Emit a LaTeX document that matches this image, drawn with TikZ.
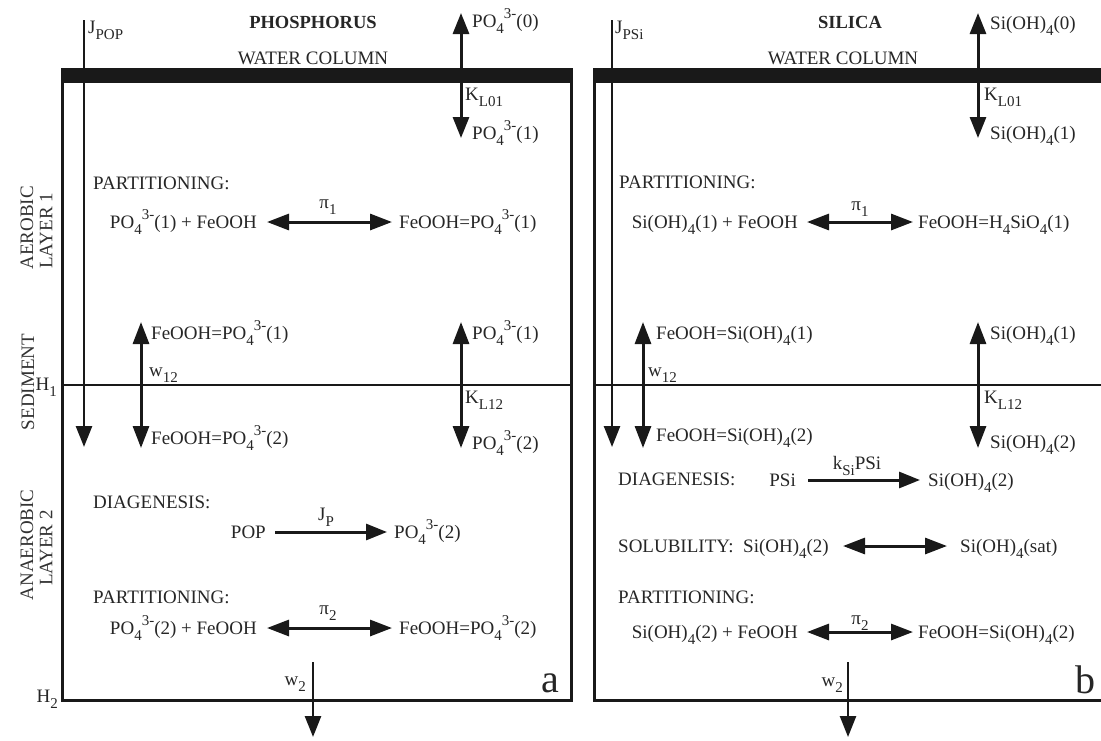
\documentclass[tikz,border=0pt]{standalone}
\usepackage{fontspec}
\setmainfont{Liberation Serif}
\usetikzlibrary{arrows.meta}
\newcommand{\sbs}[1]{\raisebox{-0.32em}{\fontsize{15}{15}\selectfont #1}}
\newcommand{\sps}[1]{\raisebox{0.45em}{\fontsize{15}{15}\selectfont #1}}
\newcommand{\POf}[1]{PO\sbs{4}\sps{3-}(#1)}
\newcommand{\SiOH}[1]{Si(OH)\sbs{4}(#1)}
\tikzset{
  lbl/.style={inner sep=0pt, text=black!85},
  bar/.style={fill=black!90, draw=none},
  boxline/.style={line width=3pt, draw=black!90, line join=miter},
  hline/.style={line width=2.5pt, draw=black!90},
  arr/.style={line width=3pt, draw=black!90, -{Triangle[length=21pt,width=16pt]}},
  thinarr/.style={line width=2.5pt, draw=black!90, -{Triangle[length=21pt,width=16pt]}},
  dbl/.style={line width=3pt, draw=black!90, {Triangle[length=22pt,width=16pt]}-{Triangle[length=22pt,width=16pt]}},
  side/.style={lbl, rotate=90, text=black!80},
  ttl/.style={lbl, font=\fontsize{18.5}{21}\selectfont\bfseries},
}
\begin{document}
\begin{tikzpicture}[x=1pt,y=-1pt, font=\fontsize{19}{22}\selectfont]
\useasboundingbox (0,0) rectangle (1101,740);
% ================= LEFT PANEL =================
\fill[bar] (61,68) rectangle (573,83);
\draw[boxline] (62,83) -- (62,700) -- (571.5,700) -- (571.5,83);
\draw[hline] (62,385) -- (571.5,385);
% side labels
\node[side] (aer) at (27,228) {AEROBIC};
\node[side] (lay1) at (46,231) {LAYER 1};
\node[side] (sed) at (28,382) {SEDIMENT};
\node[side] (anaer) at (27,545) {ANAEROBIC};
\node[side] (lay2) at (46,548) {LAYER 2};
\node[lbl, anchor=base east] (h1a) at (57,390) {H\sbs{1}};
\node[lbl, anchor=base east] (h2a) at (58,702) {H\sbs{2}};
% top
\node[lbl, anchor=base west] (jpop) at (88,33) {J\sbs{POP}};
\node[ttl, anchor=base] (ptitle) at (313,28) {PHOSPHORUS};
\node[lbl, anchor=base] (wca) at (313,64) {WATER COLUMN};
\node[lbl, anchor=base west] (po0) at (472,27) {\POf{0}};
\node[lbl, anchor=base west] (kl01a) at (465,100) {K\sbs{L01}};
\node[lbl, anchor=base west] (po1a) at (472,139) {\POf{1}};
\coordinate (jpT) at (84,20); \coordinate (jpB) at (84,447);
\coordinate (pupB) at (461,68); \coordinate (pupT) at (461,13);
\coordinate (pdnT) at (461,83); \coordinate (pdnB) at (461,138);
\draw[thinarr] (jpT) -- (jpB);
\draw[arr] (pupB) -- (pupT);
\draw[arr] (pdnT) -- (pdnB);
% partitioning 1
\node[lbl, anchor=base west] (parta) at (93,189) {PARTITIONING:};
\node[lbl, anchor=base east] (p1l) at (257,228) {\POf{1} + FeOOH};
\node[lbl, anchor=base west] (p1r) at (399,228) {FeOOH=\POf{1}};
\node[lbl, anchor=base] (pi1a) at (328,208) {π\sbs{1}};
\coordinate (p1L) at (267,222); \coordinate (p1R) at (392,222);
\draw[dbl] (p1L) -- (p1R);
% exchange across H1
\node[lbl, anchor=base west] (fe1a) at (151,339) {FeOOH=\POf{1}};
\node[lbl, anchor=base west] (w12a) at (149,376) {w\sbs{12}};
\node[lbl, anchor=base west] (fe2a) at (151,444) {FeOOH=\POf{2}};
\node[lbl, anchor=base west] (po1b) at (472,339) {\POf{1}};
\node[lbl, anchor=base west] (kl12a) at (465,403) {K\sbs{L12}};
\node[lbl, anchor=base west] (po2b) at (472,449) {\POf{2}};
\coordinate (wT) at (141,322); \coordinate (wB) at (141,448);
\coordinate (kT) at (461,322); \coordinate (kB) at (461,448);
\draw[dbl] (wT) -- (wB);
\draw[dbl] (kT) -- (kB);
% diagenesis
\node[lbl, anchor=base west] (diaga) at (93,508) {DIAGENESIS:};
\node[lbl, anchor=base east] (pop) at (266,538) {POP};
\node[lbl, anchor=base west] (po2c) at (394,538) {\POf{2}};
\node[lbl, anchor=base] (jp) at (326,520) {J\sbs{P}};
\coordinate (dL) at (275,532); \coordinate (dR) at (387,532);
\draw[arr] (dL) -- (dR);
% partitioning 2
\node[lbl, anchor=base west] (partb) at (93,603) {PARTITIONING:};
\node[lbl, anchor=base east] (p2l) at (257,634) {\POf{2} + FeOOH};
\node[lbl, anchor=base west] (p2r) at (399,634) {FeOOH=\POf{2}};
\node[lbl, anchor=base] (pi2a) at (328,614) {π\sbs{2}};
\coordinate (p2L) at (267,628); \coordinate (p2R) at (392,628);
\draw[dbl] (p2L) -- (p2R);
% burial
\node[lbl, anchor=base east] (w2a) at (306,685) {w\sbs{2}};
\coordinate (bT) at (313,662); \coordinate (bB) at (313,737);
\draw[thinarr] (bT) -- (bB);
\node[lbl, anchor=base, font=\fontsize{40}{40}\selectfont] (la) at (550,692) {a};
% ================= RIGHT PANEL =================
\fill[bar] (593,68) rectangle (1101,83);
\draw[boxline] (594.5,83) -- (594.5,700) -- (1101,700);
\draw[hline] (594.5,385) -- (1101,385);
\node[lbl, anchor=base west] (jpsi) at (615,33) {J\sbs{PSi}};
\node[ttl, anchor=base] (stitle) at (850,28) {SILICA};
\node[lbl, anchor=base] (wcb) at (843,64) {WATER COLUMN};
\node[lbl, anchor=base west] (si0) at (990,29) {\SiOH{0}};
\node[lbl, anchor=base west] (kl01b) at (984,100) {K\sbs{L01}};
\node[lbl, anchor=base west] (si1a) at (990,139) {\SiOH{1}};
\coordinate (jsT) at (612,20); \coordinate (jsB) at (612,447);
\coordinate (supB) at (978,68); \coordinate (supT) at (978,13);
\coordinate (sdnT) at (978,83); \coordinate (sdnB) at (978,138);
\draw[thinarr] (jsT) -- (jsB);
\draw[arr] (supB) -- (supT);
\draw[arr] (sdnT) -- (sdnB);
% partitioning 1
\node[lbl, anchor=base west] (partc) at (619,188) {PARTITIONING:};
\node[lbl, anchor=base east] (s1l) at (798,228) {\SiOH{1} + FeOOH};
\node[lbl, anchor=base west] (s1r) at (918,228) {FeOOH=H\sbs{4}SiO\sbs{4}(1)};
\node[lbl, anchor=base] (pi1b) at (860,210) {π\sbs{1}};
\coordinate (s1L) at (807,222); \coordinate (s1R) at (913,222);
\draw[dbl] (s1L) -- (s1R);
% exchange across H1
\node[lbl, anchor=base west] (fe1b) at (656,339) {FeOOH=\SiOH{1}};
\node[lbl, anchor=base west] (w12b) at (648,376) {w\sbs{12}};
\node[lbl, anchor=base west] (fe2b) at (656,441) {FeOOH=\SiOH{2}};
\node[lbl, anchor=base west] (si1b) at (990,339) {\SiOH{1}};
\node[lbl, anchor=base west] (kl12b) at (984,403) {K\sbs{L12}};
\node[lbl, anchor=base west] (si2b) at (990,448) {\SiOH{2}};
\coordinate (w2T) at (643,322); \coordinate (w2B) at (643,448);
\coordinate (k2T) at (978,322); \coordinate (k2B) at (978,448);
\draw[dbl] (w2T) -- (w2B);
\draw[dbl] (k2T) -- (k2B);
% diagenesis
\node[lbl, anchor=base west] (diagb) at (618,485) {DIAGENESIS:};
\node[lbl, anchor=base east] (psi) at (796,486) {PSi};
\node[lbl, anchor=base west] (si2c) at (928,486) {\SiOH{2}};
\node[lbl, anchor=base] (ksi) at (857,469) {k\sbs{Si}PSi};
\coordinate (sdL) at (808,480); \coordinate (sdR) at (920,480);
\draw[arr] (sdL) -- (sdR);
% solubility
\node[lbl, anchor=base west] (solb) at (618,552) {SOLUBILITY:};
\node[lbl, anchor=base west] (si2d) at (743,552) {\SiOH{2}};
\node[lbl, anchor=base west] (sisat) at (960,552) {\SiOH{sat}};
\coordinate (soL) at (843,546); \coordinate (soR) at (947,546);
\draw[dbl] (soL) -- (soR);
% partitioning 2
\node[lbl, anchor=base west] (partd) at (618,603) {PARTITIONING:};
\node[lbl, anchor=base east] (s2l) at (798,638) {\SiOH{2} + FeOOH};
\node[lbl, anchor=base west] (s2r) at (918,638) {FeOOH=\SiOH{2}};
\node[lbl, anchor=base] (pi2b) at (860,624) {π\sbs{2}};
\coordinate (s2L) at (807,632); \coordinate (s2R) at (913,632);
\draw[dbl] (s2L) -- (s2R);
% burial
\node[lbl, anchor=base east] (w2b) at (843,686) {w\sbs{2}};
\coordinate (sbT) at (848,662); \coordinate (sbB) at (848,737);
\draw[thinarr] (sbT) -- (sbB);
\node[lbl, anchor=base, font=\fontsize{40}{40}\selectfont] (lb) at (1085,693) {b};
\end{tikzpicture}
\end{document}
